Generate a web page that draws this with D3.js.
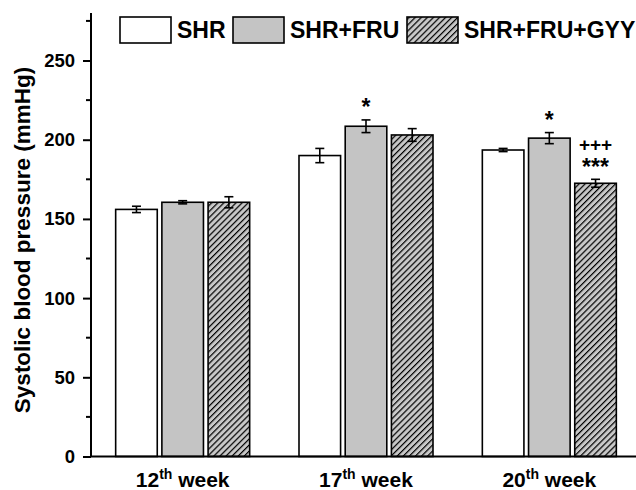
<!DOCTYPE html>
<meta charset="utf-8">
<script src="https://d3js.org/d3.v7.min.js"></script>
<style>
  body { margin: 0; background: #fff; }
  text { font-family: Arial, "Liberation Sans", sans-serif; font-weight: bold; fill: #000; }
</style>
<body>
<div id="chart"></div>
<script>
// data
var weeks = ["12", "17", "20"];
var groups = ["SHR", "SHR+FRU", "SHR+FRU+GYY"];
var means = [
  [156, 160.5, 160.5],
  [190, 208.5, 203],
  [193.5, 201, 172.5]
];
var errs = [
  [2, 1, 3.5],
  [4.5, 4, 4],
  [1, 3.5, 2.5]
];
// significance marks: [week index, group index, lines]
var marks = [
  [1, 1, ["*"]],
  [2, 1, ["*"]],
  [2, 2, ["+++", "***"]]
];
var yTicks = [0, 50, 100, 150, 200, 250];

var W = 636, H = 490;

var svg = d3.select("#chart").append("svg")
  .attr("width", W).attr("height", H);

var defs = svg.append("defs");
var pat = defs.append("pattern")
  .attr("id", "hatch")
  .attr("patternUnits", "userSpaceOnUse")
  .attr("width", 4.3).attr("height", 4.3)
  .attr("patternTransform", "rotate(45)");
pat.append("rect").attr("width", 4.3).attr("height", 4.3).attr("fill", "#c8c8c8");
pat.append("line").attr("x1", 0).attr("y1", 0).attr("x2", 0).attr("y2", 4.3)
  .attr("stroke", "#000").attr("stroke-width", 2.4);

var fills = ["#ffffff", "#c4c4c4", "url(#hatch)"];

var y = d3.scaleLinear().domain([0, 280]).range([456.5, 13]);
var x = d3.scaleBand().domain(weeks).range([91, 641]).paddingInner(0).paddingOuter(0);
var xi = d3.scaleBand().domain(groups).range([0, 134]).paddingInner(0.1);

// bars
weeks.forEach(function(w, i) {
  var g = svg.append("g").attr("transform", "translate(" + (x(w) + x.bandwidth() / 2 - 67) + ",0)");
  groups.forEach(function(s, j) {
    var v = means[i][j], e = errs[i][j];
    var bx = xi(s), bw = xi.bandwidth();
    g.append("rect")
      .attr("x", bx).attr("y", y(v))
      .attr("width", bw).attr("height", y(0) - y(v))
      .attr("fill", fills[j]).attr("stroke", "#000").attr("stroke-width", 1.6);
    var cx = bx + bw / 2;
    g.append("line").attr("x1", cx).attr("x2", cx).attr("y1", y(v - e)).attr("y2", y(v + e))
      .attr("stroke", "#000").attr("stroke-width", 1.6);
    [v - e, v + e].forEach(function(t) {
      g.append("line").attr("x1", cx - 4.5).attr("x2", cx + 4.5).attr("y1", y(t)).attr("y2", y(t))
        .attr("stroke", "#000").attr("stroke-width", 1.6);
    });
  });
  marks.filter(function(m) { return m[0] === i; }).forEach(function(m) {
    var s = groups[m[1]];
    var cx = xi(s) + xi.bandwidth() / 2;
    var v = means[i][m[1]], e = errs[i][m[1]];
    if (m[2].length === 1) {
      g.append("text").attr("x", cx).attr("y", y(v + e) - 5)
        .attr("text-anchor", "middle").style("font-size", "23px").text(m[2][0]);
    } else {
      // stacked labels over the bar
      g.append("text").attr("x", cx).attr("y", y(v + e) - 28)
        .attr("text-anchor", "middle").style("font-size", "19px").text(m[2][0]);
      g.append("text").attr("x", cx).attr("y", y(v + e) - 4)
        .attr("text-anchor", "middle").style("font-size", "23px").text(m[2][1]);
    }
  });
});

// y axis
var yAxis = d3.axisLeft(y).tickValues(yTicks).tickSize(8).tickPadding(8);
var ya = svg.append("g").attr("transform", "translate(91,0)").call(yAxis);
ya.select(".domain").attr("stroke-width", 2).attr("d", "M0," + y(0) + "V13");
ya.selectAll(".tick line").attr("stroke-width", 2);
ya.selectAll(".tick text").style("font-size", "18.5px");
var minor = d3.range(25, 280, 50);
ya.selectAll(".minor").data(minor).enter().append("line")
  .attr("x1", -5).attr("x2", 0).attr("y1", function(d) { return y(d); }).attr("y2", function(d) { return y(d); })
  .attr("stroke", "#000").attr("stroke-width", 2);

// x axis
svg.append("line").attr("x1", 90).attr("x2", 636).attr("y1", y(0)).attr("y2", y(0))
  .attr("stroke", "#000").attr("stroke-width", 2.2);
weeks.forEach(function(w) {
  var t = svg.append("text").attr("x", x(w) + x.bandwidth() / 2).attr("y", 487)
    .attr("text-anchor", "middle").style("font-size", "21px");
  t.append("tspan").text(w);
  t.append("tspan").attr("dy", -8).style("font-size", "14px").text("th");
  t.append("tspan").attr("dy", 8).text(" week");
});

// y title
svg.append("text").attr("transform", "translate(30,240) rotate(-90)")
  .attr("text-anchor", "middle").style("font-size", "22.5px")
  .text("Systolic blood pressure (mmHg)");

// legend
var legX = [120, 233, 407];
groups.forEach(function(s, j) {
  svg.append("rect").attr("x", legX[j]).attr("y", 17).attr("width", 51).attr("height", 26)
    .attr("fill", fills[j]).attr("stroke", "#000").attr("stroke-width", 1.6);
  svg.append("text").attr("x", legX[j] + 57).attr("y", 38).style("font-size", "23px").text(s);
});
</script>
</body>
